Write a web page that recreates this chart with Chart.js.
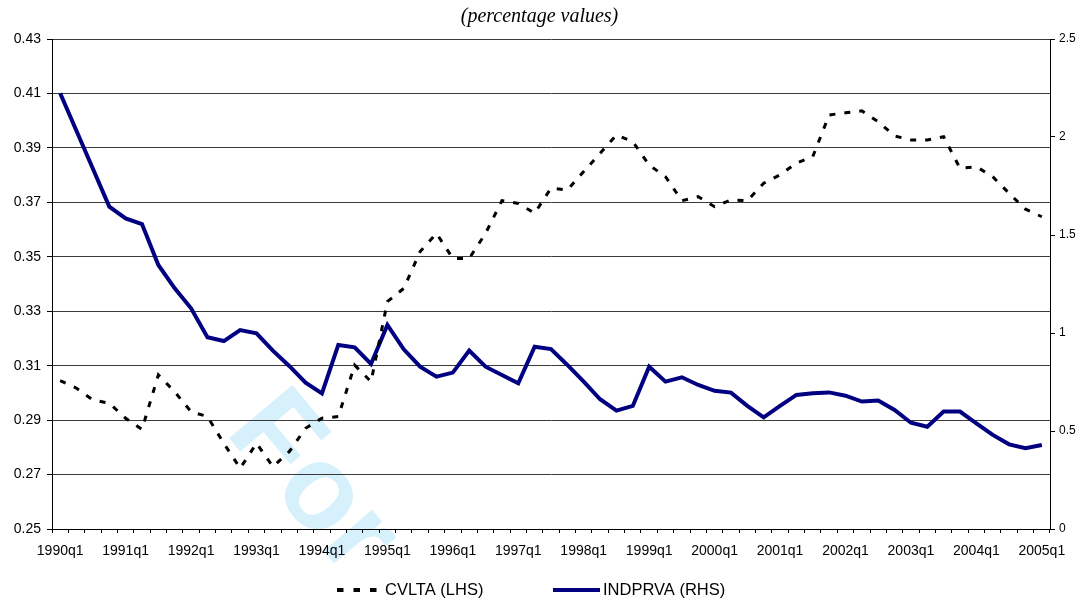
<!DOCTYPE html>
<html>
<head>
<meta charset="utf-8">
<script src="https://cdn.jsdelivr.net/npm/chart.js@4.4.0/dist/chart.umd.min.js"></script>
<style>
  html, body { margin: 0; padding: 0; background: #fff; }
  #wrap { width: 1079px; height: 598px; position: relative; }
</style>
</head>
<body>
<div id="wrap"><canvas id="chart"></canvas></div>
<script>
// quarters 1990q1 .. 2005q1
const quarters = [
  '1990q1','1990q2','1990q3','1990q4','1991q1','1991q2','1991q3','1991q4',
  '1992q1','1992q2','1992q3','1992q4','1993q1','1993q2','1993q3','1993q4',
  '1994q1','1994q2','1994q3','1994q4','1995q1','1995q2','1995q3','1995q4',
  '1996q1','1996q2','1996q3','1996q4','1997q1','1997q2','1997q3','1997q4',
  '1998q1','1998q2','1998q3','1998q4','1999q1','1999q2','1999q3','1999q4',
  '2000q1','2000q2','2000q3','2000q4','2001q1','2001q2','2001q3','2001q4',
  '2002q1','2002q2','2002q3','2002q4','2003q1','2003q2','2003q3','2003q4',
  '2004q1','2004q2','2004q3','2004q4','2005q1'
];

// CVLTA, left axis
const cvlta = [
  0.3045, 0.3017, 0.2974, 0.2962, 0.2907, 0.2866, 0.3066, 0.3004, 0.2931, 0.2913,
  0.2815, 0.2723, 0.2815, 0.2729, 0.2784, 0.2870, 0.2907, 0.2913, 0.3102, 0.3041,
  0.3335, 0.3384, 0.3519, 0.3586, 0.3494, 0.3494, 0.3586, 0.3706, 0.3696, 0.3660,
  0.3752, 0.3745, 0.3813, 0.3880, 0.3947, 0.3923, 0.3837, 0.3794, 0.3706, 0.3721,
  0.3684, 0.3709, 0.3706, 0.3770, 0.3801, 0.3844, 0.3868, 0.4021, 0.4029, 0.4036,
  0.3996, 0.3944, 0.3929, 0.3929, 0.3941, 0.3825, 0.3831, 0.3794, 0.3733, 0.3675,
  0.3647
];

// INDPRVA, right axis
const indprva = [
  2.223, 2.031, 1.838, 1.645, 1.585, 1.556, 1.347, 1.228, 1.126, 0.978,
  0.959, 1.015, 0.998, 0.910, 0.832, 0.747, 0.692, 0.939, 0.927, 0.842,
  1.041, 0.917, 0.828, 0.777, 0.798, 0.910, 0.828, 0.786, 0.743, 0.930,
  0.918, 0.837, 0.752, 0.662, 0.604, 0.628, 0.828, 0.752, 0.774, 0.735,
  0.705, 0.696, 0.628, 0.570, 0.628, 0.684, 0.692, 0.697, 0.680, 0.650,
  0.655, 0.607, 0.542, 0.522, 0.599, 0.599, 0.539, 0.480, 0.432, 0.412,
  0.429
];

const leftTicks = [0.25, 0.27, 0.29, 0.31, 0.33, 0.35, 0.37, 0.39, 0.41, 0.43];
const rightTicks = [0, 0.5, 1, 1.5, 2, 2.5];

const FONT = 'Arial, "Liberation Sans", sans-serif';

// light blue "For" watermark, drawn under grid and lines
const watermark = {
  id: 'watermark',
  beforeDraw(chart) {
    const ctx = chart.ctx;
    ctx.save();
    ctx.translate(224, 432);
    ctx.rotate(50 * Math.PI / 180);
    ctx.font = 'bold 120px ' + FONT;
    ctx.fillStyle = 'rgb(214,240,252)';
    ctx.textAlign = 'left';
    ctx.textBaseline = 'alphabetic';
    ctx.fillText('For', 0, 0);
    ctx.restore();
  }
};

// bottom legend with line samples taken from the datasets
const lineLegend = {
  id: 'lineLegend',
  afterDraw(chart) {
    const ctx = chart.ctx;
    const items = [
      { x: 337, w: 40, gap: 8 },
      { x: 553, w: 47, gap: 3 }
    ];
    const y = 590;
    ctx.save();
    ctx.font = '16.5px ' + FONT;
    ctx.textBaseline = 'middle';
    ctx.fillStyle = '#000';
    chart.data.datasets.forEach((ds, i) => {
      const it = items[i];
      ctx.beginPath();
      ctx.strokeStyle = ds.borderColor;
      ctx.lineWidth = ds.legendWidth || ds.borderWidth;
      ctx.setLineDash(ds.legendDash || []);
      ctx.moveTo(it.x, y);
      ctx.lineTo(it.x + it.w, y);
      ctx.stroke();
      ctx.setLineDash([]);
      ctx.fillText(ds.label, it.x + it.w + it.gap, y);
    });
    ctx.restore();
  }
};

new Chart(document.getElementById('chart'), {
  type: 'line',
  data: {
    labels: quarters,
    datasets: [
      {
        label: 'CVLTA (LHS)',
        data: cvlta,
        yAxisID: 'yLeft',
        borderColor: '#000',
        borderWidth: 3,
        borderDash: [6, 9],
        legendDash: [6.5, 10],
        legendWidth: 4,
        pointRadius: 0,
        tension: 0,
        fill: false
      },
      {
        label: 'INDPRVA (RHS)',
        data: indprva,
        yAxisID: 'yRight',
        borderColor: '#000080',
        borderWidth: 4,
        pointRadius: 0,
        tension: 0,
        fill: false
      }
    ]
  },
  options: {
    responsive: true,
    maintainAspectRatio: false,
    animation: false,
    devicePixelRatio: 1,
    layout: { padding: 0 },
    plugins: {
      legend: { display: false },
      tooltip: { enabled: false },
      title: {
        display: true,
        text: '(percentage values)',
        color: '#000',
        font: { family: '"Liberation Serif", "Times New Roman", serif', size: 20, style: 'italic', weight: 'normal', lineHeight: 1.2 },
        padding: { top: 5, bottom: 10 }
      }
    },
    scales: {
      x: {
        offset: true,
        afterFit(scale) { scale.height = 69; },
        grid: {
          display: true,
          offset: true,
          drawOnChartArea: false,
          tickLength: 4,
          tickColor: '#000'
        },
        border: { display: true, color: '#000', width: 1 },
        ticks: {
          autoSkip: false,
          maxRotation: 0,
          minRotation: 0,
          padding: 10,
          color: '#000',
          font: { family: FONT, size: 14 },
          callback: function(value, index) {
            return index % 4 === 0 ? quarters[index] : '';
          }
        }
      },
      yLeft: {
        type: 'linear',
        position: 'left',
        min: 0.25,
        max: 0.43,
        afterFit(scale) { scale.width = 52; },
        afterBuildTicks(scale) { scale.ticks = leftTicks.map(v => ({ value: v })); },
        grid: {
          color: '#3a3a3a',
          lineWidth: 1,
          tickLength: 5,
          tickColor: '#000'
        },
        border: { display: true, color: '#000', width: 1 },
        ticks: {
          padding: 6,
          color: '#000',
          font: { family: FONT, size: 14 },
          callback: function(value) { return value.toFixed(2); }
        }
      },
      yRight: {
        type: 'linear',
        position: 'right',
        min: 0,
        max: 2.5,
        afterFit(scale) { scale.width = 29; },
        afterBuildTicks(scale) { scale.ticks = rightTicks.map(v => ({ value: v })); },
        grid: {
          drawOnChartArea: false,
          tickLength: 5,
          tickColor: '#000'
        },
        border: { display: true, color: '#000', width: 1 },
        ticks: {
          padding: 4,
          color: '#000',
          font: { family: FONT, size: 12 },
          callback: function(value) { return String(value); }
        }
      }
    }
  },
  plugins: [watermark, lineLegend]
});
</script>
</body>
</html>
